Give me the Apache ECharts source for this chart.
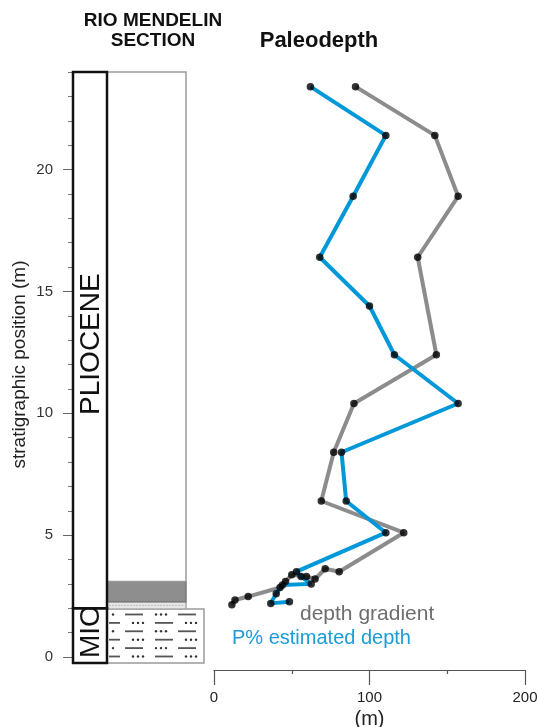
<!DOCTYPE html>
<html>
<head>
<meta charset="utf-8">
<script src="https://cdn.jsdelivr.net/npm/echarts@6/dist/echarts.min.js"></script>
<style>
  html, body { margin: 0; padding: 0; background: #fff; }
  #chart { width: 539px; height: 727px; }
</style>
</head>
<body>
<div id="chart"></div>
<script>
// Paleodepth from the depth-gradient model: stratigraphic position (m) and depth (m)
const gradientPos   = [23.4, 21.4, 18.9, 16.4, 12.4, 10.4, 8.4, 6.4, 5.1, 3.5, 3.62, 3.2, 3.3, 3.37, 3.1, 2.85, 2.48, 2.34, 2.14];
const gradientDepth = [91, 142, 157, 131, 143, 90, 77, 69, 122, 80.5, 71.5, 65, 59.5, 50, 46, 42.5, 22, 13.5, 11.5];

// Paleodepth estimated from planktonic percentage (P%)
const pctPos   = [23.4, 21.4, 18.9, 16.4, 14.4, 12.4, 10.4, 8.4, 6.4, 5.1, 3.5, 3.3, 3.0, 2.95, 2.6, 2.2, 2.27];
const pctDepth = [62, 110.5, 89.5, 68, 100, 116, 157, 82, 85, 110.5, 53, 56, 62.5, 44, 40, 36.5, 48.5];

// Lithological log of the section (base / top in m)
const lithoBase = [-0.25, 1.97, 2.27, 3.1];
const lithoTop  = [1.97, 2.27, 3.1, 24];
const lithoType = ['silt', 'sandyMarl', 'greyMarl', 'marl'];

// Chronostratigraphic units
const epochBase  = [-0.25, 2.0];
const epochTop   = [2.0, 24];
const epochNames = ['MIO', 'PLIOCENE'];

// Axis ticks
const posLabels   = [0, 5, 10, 15, 20];
const posMinor    = [1, 2, 3, 4, 6, 7, 8, 9, 11, 12, 13, 14, 16, 17, 18, 19, 21, 22, 23, 24];
const depthLabels = [0, 100, 200];

const FONT = '"Liberation Sans", Arial, sans-serif';
const EPOCH_W = 34;
const lithoStyle = {
  marl:      { width: 79, fill: '#ffffff', stroke: '#9a9a9a' },
  greyMarl:  { width: 79, fill: '#8e8e8e', stroke: '#7a7a7a' },
  sandyMarl: { width: 79, fill: '#e6e6e6', stroke: '#aaaaaa' },
  silt:      { width: 97, fill: '#ffffff', stroke: '#9a9a9a' }
};

// Silt symbol: alternating rows of dashes and dot triplets
function siltPattern(x0, x1, y0, y1) {
  const items = [];
  const rowGap = 8.4, period = 53;
  let row = 0;
  for (let y = y0 + 5.5; y < y1 - 2; y += rowGap, row++) {
    const shift = (row % 2) ? -5 : -35;
    for (let p = x0 + shift; p < x1; p += period) {
      const a = Math.max(p, x0 + 2), b = Math.min(p + 18, x1 - 2);
      if (b > a) {
        items.push({ type: 'line', shape: { x1: a, y1: y, x2: b, y2: y },
          style: { stroke: '#555', lineWidth: 1.8 } });
      }
      for (let k = 0; k < 3; k++) {
        const dx = p + 31 + k * 5;
        if (dx > x0 + 2 && dx < x1 - 2) {
          items.push({ type: 'circle', shape: { cx: dx, cy: y, r: 1.2 },
            style: { fill: '#333' } });
        }
      }
    }
  }
  return items;
}

function renderLitho(params, api) {
  const cs = params.coordSys;
  const b = api.coord([0, api.value(0)]);
  const t = api.coord([0, api.value(1)]);
  const st = lithoStyle[lithoType[params.dataIndex]];
  const x0 = cs.x + EPOCH_W;
  const children = [{
    type: 'rect',
    shape: { x: x0, y: t[1], width: st.width, height: b[1] - t[1] },
    style: { fill: st.fill, stroke: st.stroke, lineWidth: 1.5 }
  }];
  if (lithoType[params.dataIndex] === 'silt') {
    children.push.apply(children, siltPattern(x0, x0 + st.width, t[1], b[1]));
  }
  if (lithoType[params.dataIndex] === 'sandyMarl') {
    for (let x = x0 + 3; x < x0 + st.width - 2; x += 3) {
      children.push({ type: 'circle', shape: { cx: x, cy: (t[1] + b[1]) / 2, r: 0.6 },
        style: { fill: '#999' } });
    }
  }
  return { type: 'group', children: children };
}

function renderEpoch(params, api) {
  const cs = params.coordSys;
  const b = api.coord([0, api.value(0)]);
  const t = api.coord([0, api.value(1)]);
  const name = epochNames[params.dataIndex];
  const dy = name === 'MIO' ? -4 : 4;
  return {
    type: 'group',
    children: [
      { type: 'rect', shape: { x: cs.x, y: t[1], width: EPOCH_W, height: b[1] - t[1] },
        style: { fill: '#fff', stroke: '#111', lineWidth: 2.5 } },
      { type: 'text', x: cs.x + EPOCH_W / 2 + 1, y: (t[1] + b[1]) / 2 + dy, rotation: Math.PI / 2,
        style: { text: name, font: '28px ' + FONT, fill: '#111', align: 'center', verticalAlign: 'middle' } }
    ]
  };
}

const gradientData = gradientDepth.map((d, i) => [d, gradientPos[i]]);
const pctData = pctDepth.map((d, i) => [d, pctPos[i]]);

const chart = echarts.init(document.getElementById('chart'), null, { renderer: 'canvas' });
chart.setOption({
  animation: false,
  backgroundColor: '#fff',
  grid: [
    { left: 73, top: 72, width: 131, height: 585, outerBoundsMode: 'none', containLabel: false },
    { left: 214, top: 72, width: 311, height: 585, outerBoundsMode: 'none', containLabel: false }
  ],
  xAxis: [
    { gridIndex: 0, type: 'value', min: 0, max: 1, show: false },
    {
      gridIndex: 1, type: 'value', min: 0, max: 200, interval: 100, offset: 13,
      position: 'bottom',
      name: '(m)', nameLocation: 'middle', nameGap: 38,
      nameTextStyle: { fontFamily: FONT, fontSize: 20, color: '#222' },
      axisLine: { show: true, onZero: false, lineStyle: { color: '#555', width: 1.2 } },
      axisTick: { show: true, length: 15, lineStyle: { color: '#555', width: 1.2 } },
      minorTick: { show: true, splitNumber: 2, length: 4, lineStyle: { color: '#555', width: 1.2 } },
      axisLabel: { margin: 20, fontFamily: FONT, fontSize: 15, color: '#222',
        customValues: depthLabels },
      splitLine: { show: false }
    }
  ],
  yAxis: [
    {
      gridIndex: 0, type: 'value', min: 0, max: 24, position: 'left',
      name: 'stratigraphic position (m)', nameLocation: 'middle', nameGap: 44,
      nameTextStyle: { fontFamily: FONT, fontSize: 19, color: '#222' },
      axisLine: { show: false, onZero: false },
      axisTick: { show: true, length: 10, customValues: posLabels, lineStyle: { color: '#666' } },
      axisLabel: { margin: 20, fontFamily: FONT, fontSize: 15, color: '#333', customValues: posLabels },
      splitLine: { show: false }
    },
    {
      gridIndex: 0, type: 'value', min: 0, max: 24, position: 'left', offset: 0,
      axisLine: { show: false, onZero: false },
      axisTick: { show: true, length: 5, customValues: posMinor, lineStyle: { color: '#777' } },
      axisLabel: { show: false },
      splitLine: { show: false }
    },
    { gridIndex: 1, type: 'value', min: 0, max: 24, show: false }
  ],
  graphic: [
    { type: 'text', x: 153, y: 21, style: { text: 'RIO MENDELIN', font: 'bold 19px ' + FONT, fill: '#111', align: 'center', verticalAlign: 'middle' } },
    { type: 'text', x: 153, y: 41, style: { text: 'SECTION', font: 'bold 19px ' + FONT, fill: '#111', align: 'center', verticalAlign: 'middle' } },
    { type: 'text', x: 319, y: 41, style: { text: 'Paleodepth', font: 'bold 22px ' + FONT, fill: '#111', align: 'center', verticalAlign: 'middle' } },
    { type: 'text', x: 300, y: 614, style: { text: 'depth gradient', font: '21px ' + FONT, fill: '#6e6e6e', align: 'left', verticalAlign: 'middle' } },
    { type: 'text', x: 232, y: 638, style: { text: 'P% estimated depth', font: '20px ' + FONT, fill: '#1a9cd8', align: 'left', verticalAlign: 'middle' } }
  ],
  series: [
    {
      type: 'custom', xAxisIndex: 0, yAxisIndex: 0, clip: false, z: 1,
      renderItem: renderLitho,
      data: lithoBase.map((b, i) => [b, lithoTop[i]])
    },
    {
      type: 'custom', xAxisIndex: 0, yAxisIndex: 0, clip: false, z: 2,
      renderItem: renderEpoch,
      data: epochBase.map((b, i) => [b, epochTop[i]])
    },
    {
      name: 'depth gradient', type: 'line', xAxisIndex: 1, yAxisIndex: 2, z: 2,
      data: gradientData, showSymbol: false, symbol: 'none',
      lineStyle: { color: '#8c8c8c', width: 4 }
    },
    {
      name: 'P% estimated depth', type: 'line', xAxisIndex: 1, yAxisIndex: 2, z: 3,
      data: pctData, showSymbol: false, symbol: 'none',
      lineStyle: { color: '#0098d8', width: 4 }
    },
    {
      type: 'scatter', xAxisIndex: 1, yAxisIndex: 2, z: 5,
      data: gradientData.concat(pctData), symbolSize: 7.5,
      itemStyle: { color: '#000' }
    }
  ]
});
</script>
</body>
</html>
